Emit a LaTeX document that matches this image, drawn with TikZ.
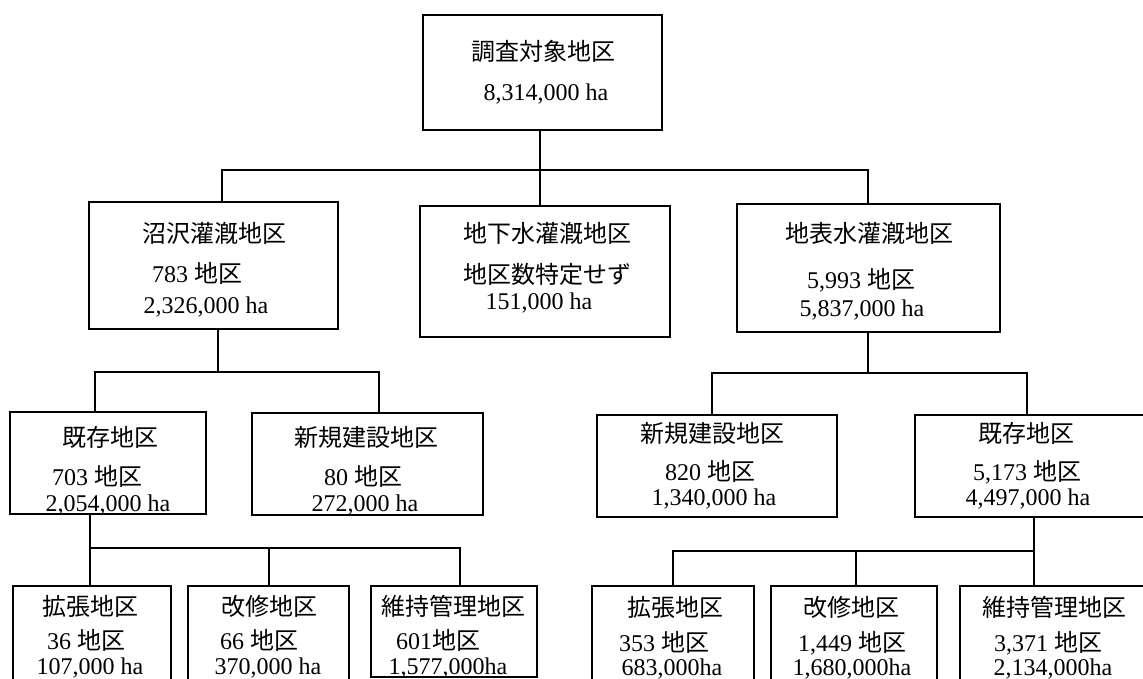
\documentclass[tikz,border=0pt]{standalone}
\usepackage{fontspec}
\setmainfont{Liberation Serif}
\newfontfamily\cjk{Noto Sans CJK JP}
\newcommand\J[1]{{\cjk #1}}
\newcommand\bx[5]{\node[box, minimum width={(#4-#2)*1pt}, minimum height={(#5-#3)*1pt}] (#1) at (#2,#3) {};}
\newcommand\tx[4]{\node[txt] (#1) at (#2,#3) {#4};}
\begin{document}
\begin{tikzpicture}[x=1pt,y=-1pt,
  box/.style={draw=black, line width=2.4pt, fill=white, anchor=north west, inner sep=0pt, outer sep=0pt},
  conn/.style={draw=black, line width=2.2pt},
  txt/.style={anchor=base, inner sep=0pt, font=\fontsize{24}{28}\selectfont}]
\clip (0,0) rectangle (1143,679);
\fill[white] (0,0) rectangle (1143,679);
% boxes
\bx{T}{423}{15}{662}{130}
\bx{A}{89}{202}{338}{329}
\bx{B}{420}{206}{670}{337}
\bx{C}{737}{204}{1000}{332}
\bx{A1}{10}{412}{206}{514}
\bx{A2}{252}{413}{483}{515}
\bx{C1}{597}{415}{837}{517}
\bx{C2}{915}{415}{1160}{517}
\bx{L1}{13}{586}{171}{690}
\bx{L2}{188}{586}{349}{690}
\bx{L3}{371}{586}{537}{677}
\bx{R1}{592}{586}{754}{690}
\bx{R2}{771}{586}{937}{690}
\bx{R3}{960}{586}{1160}{690}
% connectors level 1-2
\coordinate (j1) at (540,170);
\coordinate (jA) at (222,170);
\coordinate (jC) at (868,170);
\draw[conn] (j1 |- T.south) -- (j1);
\draw[conn] (jA |- A.north) -- (jA) -- (jC) -- (jC |- C.north);
\draw[conn] (j1) -- (j1 |- B.north);
% left level 3
\coordinate (k0) at (218,372);
\coordinate (kL) at (95,372);
\coordinate (kR) at (379,372);
\draw[conn] (k0 |- A.south) -- (k0);
\draw[conn] (kL |- A1.north) -- (kL) -- (kR) -- (kR |- A2.north);
% left level 4
\coordinate (m0) at (90,548);
\coordinate (mM) at (269,548);
\coordinate (mR) at (460,548);
\draw[conn] (m0 |- A1.south) -- (m0 |- L1.north);
\draw[conn] (m0) -- (mR) -- (mR |- L3.north);
\draw[conn] (mM) -- (mM |- L2.north);
% right level 3
\coordinate (n0) at (868,373);
\coordinate (nL) at (712,373);
\coordinate (nR) at (1027,373);
\draw[conn] (n0 |- C.south) -- (n0);
\draw[conn] (nL |- C1.north) -- (nL) -- (nR) -- (nR |- C2.north);
% right level 4
\coordinate (p0) at (1034,551);
\coordinate (pL) at (673,551);
\coordinate (pM) at (856,551);
\draw[conn] (p0 |- C2.south) -- (p0 |- R3.north);
\draw[conn] (pL |- R1.north) -- (pL) -- (p0);
\draw[conn] (pM) -- (pM |- R2.north);
% texts
\tx{T1}{543}{61}{\J{調査対象地区}}
\tx{T2}{546}{101}{8,314,000 ha}
\tx{A-1}{214}{242}{\J{沼沢灌漑地区}}
\tx{A-2}{197}{282}{783 \J{地区}}
\tx{A-3}{206}{313}{2,326,000 ha}
\tx{B-1}{547}{243}{\J{地下水灌漑地区}}
\tx{B-2}{547}{283}{\J{地区数特定せず}}
\tx{B-3}{539}{309}{151,000 ha}
\tx{C-1}{869}{242}{\J{地表水灌漑地区}}
\tx{C-2}{861}{288}{5,993 \J{地区}}
\tx{C-3}{862}{316}{5,837,000 ha}
\tx{A1-1}{110}{446}{\J{既存地区}}
\tx{A1-2}{97}{485}{703 \J{地区}}
\tx{A1-3}{108}{511}{2,054,000 ha}
\tx{A2-1}{366}{446}{\J{新規建設地区}}
\tx{A2-2}{363}{485}{80 \J{地区}}
\tx{A2-3}{365}{511}{272,000 ha}
\tx{C1-1}{712}{442}{\J{新規建設地区}}
\tx{C1-2}{710}{480}{820 \J{地区}}
\tx{C1-3}{714}{505}{1,340,000 ha}
\tx{C2-1}{1026}{442}{\J{既存地区}}
\tx{C2-2}{1027}{480}{5,173 \J{地区}}
\tx{C2-3}{1028}{505}{4,497,000 ha}
\tx{L1-1}{90}{615}{\J{拡張地区}}
\tx{L1-2}{86}{649}{36 \J{地区}}
\tx{L1-3}{90}{674}{107,000 ha}
\tx{L2-1}{269}{615}{\J{改修地区}}
\tx{L2-2}{259}{649}{66 \J{地区}}
\tx{L2-3}{268}{674}{370,000 ha}
\tx{L3-1}{453}{615}{\J{維持管理地区}}
\tx{L3-2}{438}{649}{601\J{地区}}
\tx{L3-3}{448}{674}{1,577,000ha}
\tx{R1-1}{675}{616}{\J{拡張地区}}
\tx{R1-2}{664}{651}{353 \J{地区}}
\tx{R1-3}{672}{675}{683,000ha}
\tx{R2-1}{851}{616}{\J{改修地区}}
\tx{R2-2}{852}{651}{1,449 \J{地区}}
\tx{R2-3}{852}{675}{1,680,000ha}
\tx{R3-1}{1054}{616}{\J{維持管理地区}}
\tx{R3-2}{1048}{651}{3,371 \J{地区}}
\tx{R3-3}{1053}{675}{2,134,000ha}
\end{tikzpicture}
\end{document}
